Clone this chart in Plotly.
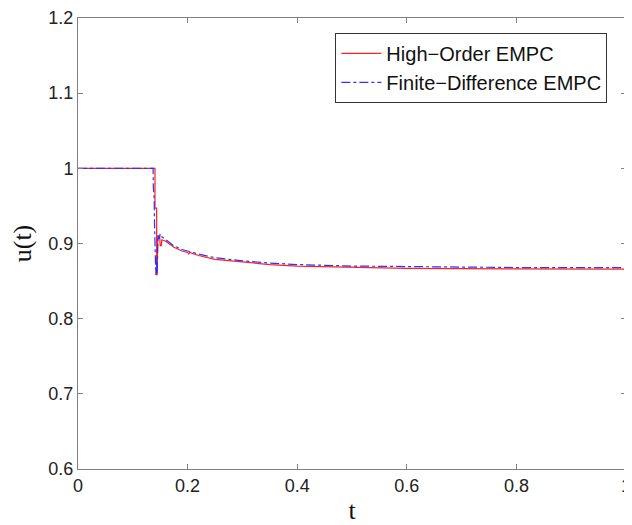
import plotly.graph_objects as go

# High-Order EMPC
t_high = [0.0, 0.1405, 0.1405, 0.1435, 0.1435, 0.1445, 0.1455, 0.149, 0.150, 0.152, 0.153,
          0.160, 0.175, 0.190, 0.200, 0.202, 0.204, 0.220, 0.250, 0.300, 0.350, 0.400,
          0.500, 0.600, 0.700, 0.800, 0.900, 1.0]
u_high = [1.0, 1.0, 0.947, 0.947, 0.8585, 0.8585, 0.910, 0.910, 0.897, 0.897, 0.905,
          0.903, 0.895, 0.890, 0.888, 0.886, 0.888, 0.884, 0.879, 0.875, 0.872, 0.870,
          0.868, 0.867, 0.8665, 0.8663, 0.866, 0.866]

# Finite-Difference EMPC
t_fd = [0.0, 0.137, 0.1375, 0.139, 0.1395, 0.1405, 0.141, 0.142, 0.1425, 0.1445, 0.146,
        0.148, 0.150, 0.153, 0.160, 0.175, 0.190, 0.200, 0.220, 0.250, 0.300, 0.350,
        0.400, 0.500, 0.600, 0.700, 0.800, 0.900, 1.0]
u_fd = [1.0, 1.0, 0.975, 0.960, 0.930, 0.900, 0.870, 0.858, 0.880, 0.860, 0.911,
        0.906, 0.913, 0.909, 0.905, 0.897, 0.892, 0.890, 0.886, 0.881, 0.877, 0.874,
        0.872, 0.870, 0.869, 0.8685, 0.868, 0.868, 0.868]

x_ticks = [0, 0.2, 0.4, 0.6, 0.8, 1]
x_tick_text = ["0", "0.2", "0.4", "0.6", "0.8", "1"]
y_ticks = [0.6, 0.7, 0.8, 0.9, 1.0, 1.1, 1.2]
y_tick_text = ["0.6", "0.7", "0.8", "0.9", "1", "1.1", "1.2"]

fig = go.Figure()
fig.add_trace(go.Scatter(x=t_high, y=u_high, mode="lines", name="High\u2212Order EMPC",
                         line=dict(color="#ff2020", width=1.2)))
fig.add_trace(go.Scatter(x=t_fd, y=u_fd, mode="lines", name="Finite\u2212Difference EMPC",
                         line=dict(color="#3030ff", width=1.2, dash="dashdot")))

axis_common = dict(showgrid=False, zeroline=False, showline=True, linecolor="#808080",
                   linewidth=1, mirror="ticks", ticks="inside", ticklen=5,
                   tickcolor="#808080", automargin=False, ticklabeloverflow="allow",
                   tickfont=dict(family="Liberation Sans, Arial", size=18, color="#222"))

fig.update_xaxes(range=[0, 1], tickvals=x_ticks, ticktext=x_tick_text,
                 title=dict(text="t", font=dict(family="Liberation Serif, Times New Roman", size=26, color="#111"), standoff=7),
                 **axis_common)
fig.update_yaxes(range=[0.6, 1.2], tickvals=y_ticks, ticktext=y_tick_text,
                 title=dict(text="u(t)", font=dict(family="Liberation Serif, Times New Roman", size=26, color="#111"), standoff=18),
                 **axis_common)

# page body has an 8px margin, so the figure is offset by 8px
fig.update_layout(
    width=624, height=517,
    margin=dict(l=70, r=6, t=10, b=56),
    plot_bgcolor="white", paper_bgcolor="white",
    legend=dict(x=0.966, y=0.967, xanchor="right", yanchor="top",
                bordercolor="#333", borderwidth=1, bgcolor="white",
                font=dict(family="Liberation Sans, Arial", size=20, color="#111"),
                tracegroupgap=0, itemwidth=40),
    showlegend=True,
)

fig.write_html("out.html")
